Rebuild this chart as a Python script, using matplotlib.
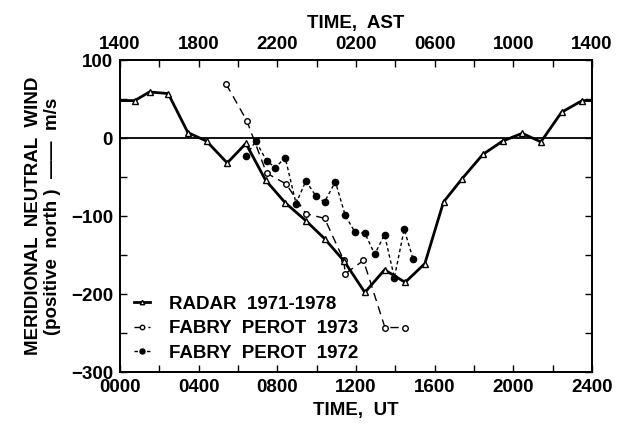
import matplotlib.pyplot as plt
from matplotlib.legend_handler import HandlerLine2D
from matplotlib.ticker import MultipleLocator

plt.rcParams['font.family'] = ['Liberation Sans', 'DejaVu Sans']
plt.rcParams['font.weight'] = 'bold'
plt.rcParams['axes.labelweight'] = 'bold'

# radar, hourly means (UT hours), line runs to both axes
radar_ut = [0, 0.75, 1.5, 2.45, 3.45, 4.4, 5.45, 6.4, 7.4, 8.4, 9.45, 10.4, 11.4,
            12.45, 13.45, 14.5, 15.5, 16.45, 17.4, 18.45, 19.45, 20.45, 21.4,
            22.45, 23.5, 24]
radar_wind = [48, 48, 59, 57, 7, -4, -32, -7, -54, -83, -106, -129, -158,
              -198, -169, -185, -161, -82, -52, -21, -4, 6, -5, 33, 48, 48]

fp73_ut = [5.4, 6.45, 7.45, 8.45, 9.45, 10.4, 11.38, 11.45, 12.38, 13.47, 14.5]
fp73_wind = [69, 22, -45, -59, -97, -103, -157, -174, -157, -243, -243]

fp72_ut = [6.4, 6.9, 7.45, 7.9, 8.4, 8.95, 9.45, 9.95, 10.4, 10.95, 11.45,
           11.95, 12.45, 12.95, 13.45, 13.95, 14.45, 14.9]
fp72_wind = [-23, -4, -29, -38, -25, -84, -55, -74, -82, -56, -99,
             -121, -122, -149, -124, -179, -117, -155]

ut_ticks = [0, 4, 8, 12, 16, 20, 24]
ut_labels = ['0000', '0400', '0800', '1200', '1600', '2000', '2400']
ast_labels = ['1400', '1800', '2200', '0200', '0600', '1000', '1400']


class MarkerFirst(HandlerLine2D):
    # marker at the left end, line after it (like the old plots)
    def get_xdata(self, legend, xdescent, ydescent, width, height, fontsize):
        gap = 0.25 * fontsize
        return [-xdescent + gap, -xdescent + width], [-xdescent]


fs = 13.5
fig = plt.figure(figsize=(6.29, 4.25), dpi=100)
ax = fig.add_axes([0.1908, 0.1247, 0.7504, 0.7341])

ax.axhline(0, color='black', lw=1.3, zorder=1)

l1, = ax.plot(radar_ut, radar_wind, color='black', lw=2.0, marker='^', ms=4,
              mfc='white', mec='black', mew=1.0,
              markevery=list(range(1, len(radar_ut) - 1)),
              label='RADAR  1971-1978', zorder=3)
l2, = ax.plot(fp73_ut, fp73_wind, color='black', lw=1.0, ls=(0, (6, 4)),
              marker='o', ms=4, mfc='white', mec='black', mew=1.0,
              label='FABRY  PEROT  1973', zorder=2)
l3, = ax.plot(fp72_ut, fp72_wind, color='black', lw=1.0, ls=(0, (2.5, 2)),
              marker='o', ms=4.5, mfc='black', mec='black',
              label='FABRY  PEROT  1972', zorder=2)

ax.set_xlim(0, 24)
ax.set_ylim(-300, 100)
ax.set_xticks(ut_ticks)
ax.set_xticklabels(ut_labels)
ax.xaxis.set_minor_locator(MultipleLocator(2))
ax.set_yticks([-300, -200, -100, 0, 100])
ax.yaxis.set_minor_locator(MultipleLocator(50))
ax.tick_params(which='both', direction='in', length=5, width=1,
               right=True, labelsize=fs, pad=5)

ax2 = ax.twiny()
ax2.set_xlim(0, 24)
ax2.set_xticks(ut_ticks)
ax2.set_xticklabels(ast_labels)
ax2.xaxis.set_minor_locator(MultipleLocator(2))
ax2.tick_params(which='both', direction='in', length=5, width=1,
                labelsize=fs, pad=5)

for a in (ax, ax2):
    for s in a.spines.values():
        s.set_linewidth(1.3)

ax.set_xlabel('TIME,  UT', fontsize=fs, labelpad=4)
ax2.set_xlabel('TIME,  AST', fontsize=fs, labelpad=6)
ax.set_ylabel('MERIDIONAL  NEUTRAL  WIND\n(positive  north )  \u2014\u2014  m/s',
              fontsize=fs, labelpad=7, linespacing=1.2)

ax.legend(handles=[l1, l2, l3], handler_map={l1: MarkerFirst(), l2: MarkerFirst(),
                                             l3: MarkerFirst()},
          loc='upper left', bbox_to_anchor=(0.02, 0.245), frameon=False,
          fontsize=fs, handlelength=1.1, handletextpad=1.0, labelspacing=0.4,
          markerscale=0.8, borderpad=0, borderaxespad=0)

fig.savefig('out.png', dpi=100)
